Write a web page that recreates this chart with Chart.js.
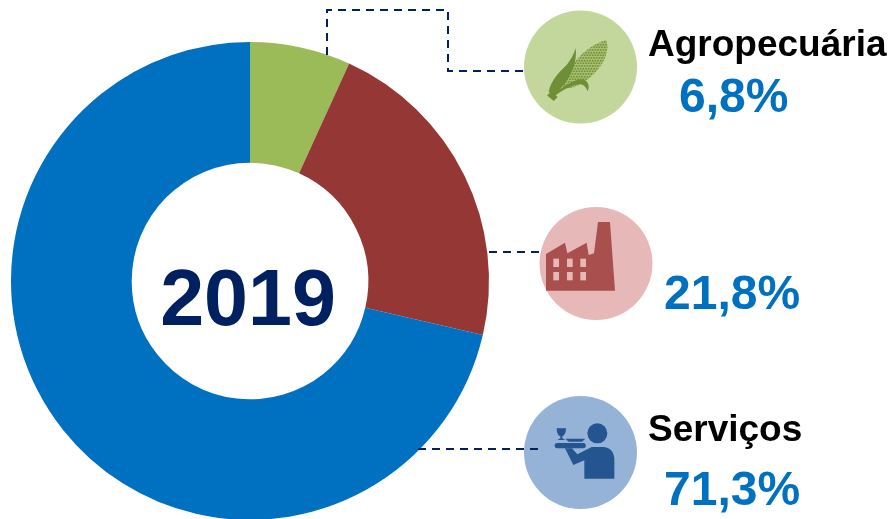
<!DOCTYPE html>
<html>
<head>
<meta charset="utf-8">
<style>
    html, body { margin: 0; padding: 0; background: #fff; overflow: hidden; }
    #wrap { position: absolute; left: 0; top: 0; width: 892px; height: 520px; }
</style>
<script src="https://cdn.jsdelivr.net/npm/chart.js@4"></script>
</head>
<body>
<div id="wrap"><canvas id="chart"></canvas></div>
<script>
const sectors = ['Agropecuária', 'Indústria', 'Serviços']
const shares = [6.8, 21.8, 71.3]
const sectorColors = ['#9BBB59', '#953735', '#0070C0']
const year = '2019'

const NAVY = '#002060'
const FONT = '"Liberation Sans", Arial, sans-serif'

function dashed(ctx, pts) {
    ctx.save()
    ctx.strokeStyle = NAVY
    ctx.lineWidth = 2
    ctx.setLineDash([8, 6])
    ctx.beginPath()
    pts.forEach((p, i) => i ? ctx.lineTo(p[0], p[1]) : ctx.moveTo(p[0], p[1]))
    ctx.stroke()
    ctx.restore()
}

function disc(ctx, x, y, color) {
    ctx.fillStyle = color
    ctx.beginPath()
    ctx.arc(x, y, 56.5, 0, Math.PI * 2)
    ctx.fill()
}

// the icons are traced in the 3x coordinates of the crops, hence the scale
function cornIcon(ctx) {
    ctx.save()
    ctx.translate(540, 30)
    ctx.scale(1 / 3, 1 / 3)
    const cob = new Path2D('M68 172 C75 120 130 50 198 30 C212 60 190 115 140 150 C115 168 90 180 68 172 Z')
    ctx.save()
    ctx.clip(cob)
    ctx.fillStyle = '#A9C373'
    ctx.fillRect(50, 20, 170, 170)
    ctx.fillStyle = '#76923C'
    for (let i = 0; i < 26; i++) {
        for (let j = 0; j < 26; j++) {
            ctx.beginPath()
            ctx.arc(50 + i * 8 + (j % 2) * 4, 20 + j * 8, 2.9, 0, Math.PI * 2)
            ctx.fill()
        }
    }
    ctx.restore()
    ctx.fillStyle = '#6F8F36'
    ctx.fill(new Path2D('M26 186 C32 150 60 125 80 105 C92 90 102 72 107 54 C112 95 95 140 60 178 C85 160 112 146 128 148 C145 152 150 170 143 184 C138 168 128 160 112 163 C90 168 65 182 46 197 Z'))
    ctx.fill(new Path2D('M21 196 L34 185 L53 201 L41 213 Z'))
    ctx.restore()
}

function factoryIcon(ctx) {
    ctx.save()
    ctx.translate(480, 200)
    ctx.scale(1 / 3, 1 / 3)
    ctx.fillStyle = '#A9504E'
    ctx.fill(new Path2D('M198 272 L198 162 L255 128 L262 160 L320 128 L326 165 L342 160 L354 66 L390 66 L405 272 Z'))
    ctx.fillStyle = '#E6B9B8'
    for (const wx of [220, 261, 301]) {
        for (const wy of [176, 216]) {
            ctx.fillRect(wx, wy, 17, 25)
        }
    }
    ctx.restore()
}

function waiterIcon(ctx) {
    ctx.save()
    ctx.translate(550, 415)
    ctx.scale(1 / 3, 1 / 3)
    ctx.fillStyle = '#255591'
    ctx.beginPath()
    ctx.arc(142, 55, 30, 0, Math.PI * 2)
    ctx.fill()
    ctx.fill(new Path2D('M103 191 L193 191 L193 130 C191 108 178 97 160 96 L125 96 L82 118 L66 100 L45 100 L70 150 L103 136 Z'))
    ctx.fill(new Path2D('M22 84 L100 84 C110 84 110 100 100 100 L22 100 C11 100 11 84 22 84 Z'))
    ctx.fill(new Path2D('M46 71 L106 71 L96 80 L56 80 Z'))
    ctx.fill(new Path2D('M20 40 L48 40 C48 55 42 62 37 64 L37 70 L46 75 L22 75 L31 70 L31 64 C25 62 20 55 20 40 Z'))
    ctx.restore()
}

function pct(i) {
    return shares[i].toFixed(1).replace('.', ',') + '%'
}

const overlays = {
    id: 'overlays',
    afterDatasetsDraw(chart) {
        const ctx = chart.ctx
        ctx.save()

        disc(ctx, 580.5, 67, '#C3D69B')
        disc(ctx, 596, 263.5, '#E6B9B8')
        disc(ctx, 580.5, 452.5, '#95B3D7')
        cornIcon(ctx)
        factoryIcon(ctx)
        waiterIcon(ctx)

        dashed(ctx, [[327, 55], [327, 10], [448, 10], [448, 71], [525, 71]])
        dashed(ctx, [[489, 252], [540, 252]])
        dashed(ctx, [[418, 449], [538, 449]])

        ctx.textBaseline = 'alphabetic'
        ctx.textAlign = 'center'
        ctx.fillStyle = NAVY
        ctx.font = 'bold 79px ' + FONT
        ctx.fillText(year, 248, 325)

        ctx.textAlign = 'left'
        ctx.fillStyle = '#000'
        ctx.font = 'bold 37px ' + FONT
        ctx.fillText(sectors[0], 648, 56)
        ctx.fillText(sectors[2], 648, 441)

        ctx.fillStyle = '#0070C0'
        ctx.font = 'bold 48px ' + FONT
        ctx.fillText(pct(0), 679, 112)
        ctx.fillText(pct(1), 664, 309)
        ctx.fillText(pct(2), 664, 505)

        ctx.restore()
    }
}

new Chart(document.getElementById('chart'), {
    type: 'doughnut',
    data: {
        labels: sectors,
        datasets: [{
            data: shares,
            backgroundColor: sectorColors,
            borderWidth: 0
        }]
    },
    options: {
        responsive: true,
        maintainAspectRatio: false,
        animation: false,
        cutout: '49.5%',
        layout: { padding: { left: 11, right: 403, top: 42, bottom: 0 } },
        plugins: {
            legend: { display: false },
            tooltip: { enabled: false }
        }
    },
    plugins: [overlays]
})
</script>
</body>
</html>
